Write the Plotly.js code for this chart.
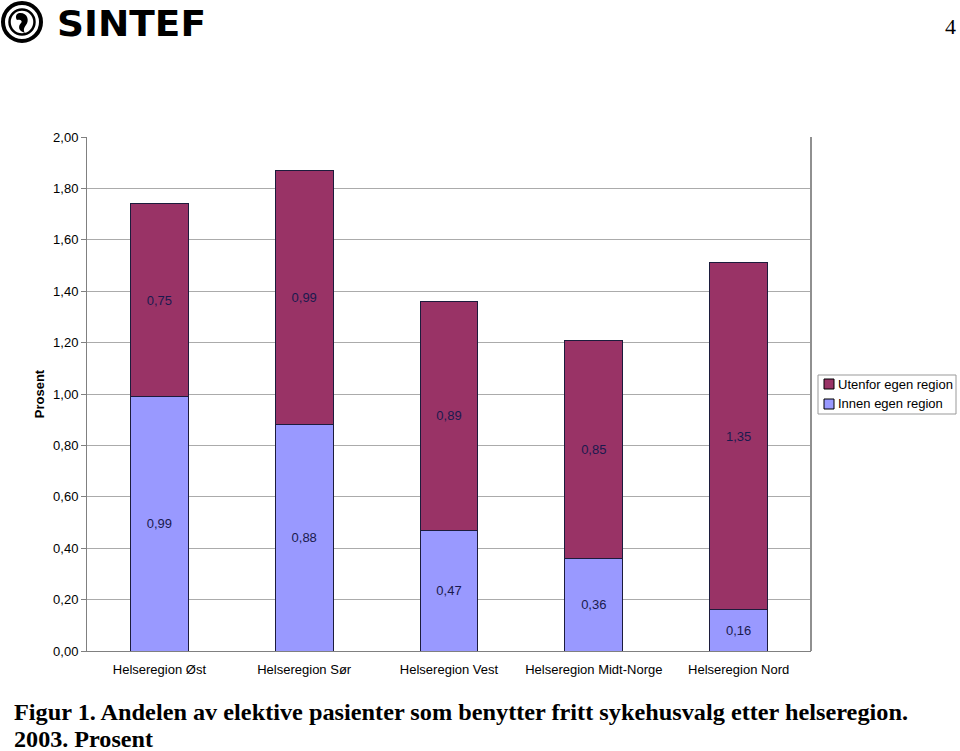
<!DOCTYPE html>
<html>
<head>
<meta charset="utf-8">
<script src="https://cdn.plot.ly/plotly-3.0.1.min.js"></script>
<style>
html,body{margin:0;padding:0;background:#fff;}
#wrap{position:relative;width:960px;height:751px;overflow:hidden;}
#chart{position:absolute;left:0;top:0;width:960px;height:751px;}
#over{position:absolute;left:0;top:0;width:960px;height:751px;pointer-events:none;}
</style>
</head>
<body>
<div id="wrap">
<div id="chart"></div>
<svg id="over" width="960" height="751" xmlns="http://www.w3.org/2000/svg">
  <g>
    <circle cx="22" cy="22" r="19" fill="none" stroke="#000" stroke-width="4"/>
    <circle cx="22" cy="22" r="12.5" fill="none" stroke="#000" stroke-width="2.5"/>
    <path d="M19 13 C27 12 30 20 26 25 C24 28 23 30 25 33 C18 31 18 26 21 23 C23 21 20 19 17 20 C15 17 16 14 19 13 Z" fill="#000"/>
    <text x="57" y="36" font-family="DejaVu Sans" font-weight="bold" font-size="36" textLength="149" lengthAdjust="spacingAndGlyphs" fill="#000">SINTEF</text>
  </g>
  <text x="945" y="34" font-family="Liberation Serif" font-size="22" fill="#000">4</text>
  <text x="14" y="720" font-family="Liberation Serif" font-weight="bold" font-size="23" textLength="894" lengthAdjust="spacingAndGlyphs" fill="#000">Figur 1. Andelen av elektive pasienter som benytter fritt sykehusvalg etter helseregion.</text>
  <text x="14" y="747" font-family="Liberation Serif" font-weight="bold" font-size="23" textLength="139" lengthAdjust="spacingAndGlyphs" fill="#000">2003. Prosent</text>
</svg>
</div>
<script>
const categories = ["Helseregion Øst", "Helseregion Sør", "Helseregion Vest", "Helseregion Midt-Norge", "Helseregion Nord"];
const innenValues = [0.99, 0.88, 0.47, 0.36, 0.16];
const utenforValues = [0.75, 0.99, 0.89, 0.85, 1.35];
const seriesNames = ["Innen egen region", "Utenfor egen region"];
const seriesColors = ['#9999FF', '#993366'];
const yTicks = [0, 0.2, 0.4, 0.6, 0.8, 1.0, 1.2, 1.4, 1.6, 1.8, 2.0];

const W = 960, H = 751;
const M = {l: 87, r: 149, t: 137, b: 100};
const PW = W - M.l - M.r, PH = H - M.t - M.b;
const px2x = p => (p - M.l) / PW;
const py2y = p => (H - M.b - p) / PH;

const labelColor = '#1a1a4e';
const outline = '#1c1c3c';
const common = {
  type: 'bar',
  x: categories,
  texttemplate: '%{y:.2f}',
  textposition: 'inside',
  insidetextanchor: 'middle',
  textangle: 0,
  constraintext: 'none',
  textfont: {family: 'Liberation Sans, Arial', size: 13, color: labelColor},
  hoverinfo: 'skip',
  showlegend: false
};
const traces = [
  Object.assign({}, common, {
    name: seriesNames[0], y: innenValues,
    marker: {color: seriesColors[0], line: {color: outline, width: 1}}
  }),
  Object.assign({}, common, {
    name: seriesNames[1], y: utenforValues,
    marker: {color: seriesColors[1], line: {color: outline, width: 1}}
  })
];

const legendShapes = [
  {type: 'rect', xref: 'paper', yref: 'paper', x0: px2x(818), x1: px2x(956), y0: py2y(414), y1: py2y(375),
   line: {color: '#999', width: 1}, fillcolor: '#fff', layer: 'above'}
];
const legendAnn = [];
[[1, 384], [0, 404]].forEach(([i, cy]) => {
  legendShapes.push({type: 'rect', xref: 'paper', yref: 'paper', x0: px2x(824), x1: px2x(834), y0: py2y(cy + 5), y1: py2y(cy - 5),
    line: {color: '#000', width: 1}, fillcolor: seriesColors[i], layer: 'above'});
  legendAnn.push({xref: 'paper', yref: 'paper', x: px2x(836), y: py2y(cy), xanchor: 'left', yanchor: 'middle',
    text: seriesNames[i], showarrow: false, font: {size: 13, color: '#000'}});
});

const layout = {
  width: W, height: H,
  margin: {l: M.l, r: M.r, t: M.t, b: M.b, pad: 0},
  barmode: 'stack',
  bargap: 0.6,
  separators: ',.',
  paper_bgcolor: '#fff',
  plot_bgcolor: '#fff',
  font: {family: 'Liberation Sans, Arial', size: 13, color: '#000'},
  showlegend: false,
  xaxis: {
    type: 'category',
    showline: true, linecolor: '#808080', linewidth: 1,
    ticks: '', showgrid: false,
    ticklabelstandoff: 6,
    tickfont: {size: 13},
    fixedrange: true
  },
  yaxis: {
    range: [0, 2],
    tickvals: yTicks,
    tickformat: '.2f',
    ticks: 'outside', ticklen: 5, tickcolor: '#808080',
    showline: true, linecolor: '#808080', linewidth: 1,
    showgrid: true, gridcolor: '#ababab', gridwidth: 1,
    zeroline: false,
    tickfont: {size: 13},
    title: {text: '<b>Prosent</b>', font: {size: 13}, standoff: 5},
    automargin: false,
    fixedrange: true
  },
  shapes: [
    {type: 'line', xref: 'paper', yref: 'paper', x0: 1, x1: 1, y0: 0, y1: 1, line: {color: '#909090', width: 2}}
  ].concat(legendShapes),
  annotations: legendAnn
};
Plotly.newPlot('chart', traces, layout, {displayModeBar: false, staticPlot: true});
</script>
</body>
</html>
